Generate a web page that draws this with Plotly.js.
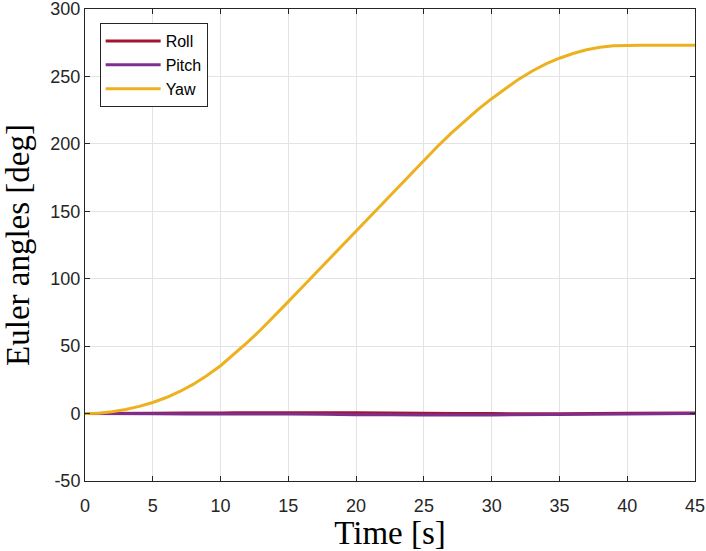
<!DOCTYPE html>
<html><head><meta charset="utf-8">
<script src="https://cdn.plot.ly/plotly-3.0.1.min.js"></script>
<style>html,body{margin:0;padding:0;background:#fff;}</style>
</head><body>
<div id="chart" style="width:706px;height:551px;"></div>
<script>
var timeYaw = [0,1,2,3,4,5,6,7,8,9,10,11,12,13,14,15,16,17,18,19,20,21,22,23,24,25,26,27,28,29,30,31,32,33,34,35,36,37,38,39,40,41,42,43,44,45];
var yaw = [0,0.3,1.3,3.0,5.3,8.2,11.9,16.4,21.8,28.2,35.5,44,53,62.5,72.5,83,93.5,104,114.5,125,135.5,146,156.5,167,177.5,188,198,207.8,217,225.6,233.5,241,248,254,259.3,263.5,267,269.8,271.7,272.8,273.2,273.2,273.2,273.2,273.2,273.2];
var timeRP = [0,5,10,15,20,25,30,35,40,45];
var roll = [0,0.2,0.5,0.7,0.6,0.3,0,-0.2,0.2,0.5];
var pitch = [0,-0.2,-0.3,-0.4,-0.8,-1.0,-1.0,-0.7,-0.3,0];
var xTicks = [0,5,10,15,20,25,30,35,40,45];
var xTickText = ['0','5','10','15','20','25','30','35','40','45'];
var yTicks = [-50,0,50,100,150,200,250,300];
var yTickText = ['-50','0','50','100','150','200','250','300'];

var traces = [
  {x: timeRP, y: roll, name: 'Roll', mode: 'lines', line: {color: '#A2142F', width: 3, shape: 'spline'}},
  {x: timeRP, y: pitch, name: 'Pitch', mode: 'lines', line: {color: '#7E2F8E', width: 3, shape: 'spline'}},
  {x: timeYaw, y: yaw, name: 'Yaw', mode: 'lines', line: {color: '#EDB120', width: 3, shape: 'linear'}}
];
var axisCommon = {
  showline: true, linecolor: '#262626', linewidth: 1, mirror: 'ticks',
  ticks: 'inside', ticklen: 5, tickcolor: '#262626', tickwidth: 1,
  showgrid: true, gridcolor: '#e3e3e3', gridwidth: 1, zeroline: false,
  ticklabeloverflow: 'allow',
  tickfont: {family: 'Liberation Sans, Arial, sans-serif', size: 18, color: '#262626'}
};
var layout = {
  width: 706, height: 551,
  margin: {l: 85, r: 11, t: 9, b: 70},
  paper_bgcolor: '#fff', plot_bgcolor: '#fff',
  showlegend: true,
  legend: {x: 0.024, y: 0.97, xanchor: 'left', yanchor: 'top', bgcolor: '#fff', bordercolor: '#262626', borderwidth: 1,
    font: {family: 'Liberation Sans, Arial, sans-serif', size: 16, color: '#000'}, itemwidth: 55, tracegroupgap: 0},
  xaxis: Object.assign({}, axisCommon, {range: [0,45], tickvals: xTicks, ticktext: xTickText, ticklabelstandoff: 8,
    title: {text: 'Time [s]', font: {family: 'Liberation Serif, DejaVu Serif, serif', size: 33, color: '#000'}, standoff: 4}}),
  yaxis: Object.assign({}, axisCommon, {range: [-50,300], tickvals: yTicks, ticktext: yTickText,
    title: {text: 'Euler angles [deg]', font: {family: 'Liberation Serif, DejaVu Serif, serif', size: 33, color: '#000'}, standoff: 12}})
};
Plotly.newPlot('chart', traces, layout, {displayModeBar: false, staticPlot: true});
</script>
</body></html>
